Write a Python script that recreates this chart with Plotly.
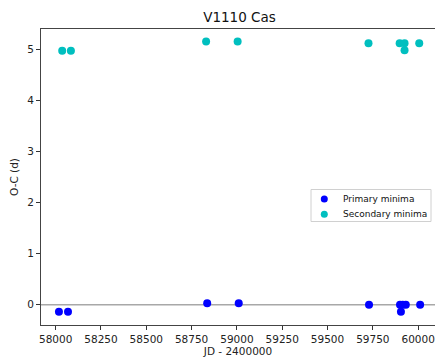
import plotly.graph_objects as go

# O-C residuals of eclipse timings (days) against JD - 2400000
prim_jd = [58018, 58068, 58836, 59010, 59729, 59900, 59905, 59915, 59932, 60011]
prim_oc = [-0.14, -0.14, 0.03, 0.03, 0.0, 0.0, -0.14, 0.0, 0.0, 0.0]
sec_jd = [58036, 58084, 58830, 59004, 59726, 59898, 59925, 59925, 60006]
sec_oc = [4.97, 4.97, 5.15, 5.15, 5.12, 5.12, 5.12, 4.98, 5.12]

x_ticks = [58000, 58250, 58500, 58750, 59000, 59250, 59500, 59750, 60000]
y_ticks = [0, 1, 2, 3, 4, 5]

series_names = ["Primary minima", "Secondary minima"]
series_colors = ["#0000ff", "#00bfbf"]

FONT = "DejaVu Sans"
W, H = 435, 363
ML, MR, MT, MB = 41, 0, 29, 38
PW, PH = W - ML - MR, H - MT - MB


def px_x(px):
    """pixel column -> paper x"""
    return (px - ML) / PW


def px_y(py):
    """pixel row -> paper y"""
    return (H - MB - py) / PH


fig = go.Figure()
for jd, oc, name, col in zip([prim_jd, sec_jd], [prim_oc, sec_oc],
                             series_names, series_colors):
    fig.add_trace(go.Scatter(
        x=jd, y=oc, mode="markers", name=name, showlegend=False,
        marker=dict(color=col, size=8, line=dict(width=0)),
    ))

fig.add_hline(y=0, line=dict(color="#a8a8a8", width=1.5), layer="below")

# legend box with a drop shadow
bx0, bx1, by0, by1 = 311, 431, 189.5, 221.5
shapes = [
    dict(type="rect", xref="paper", yref="paper",
         x0=px_x(bx0 + 3), x1=px_x(bx1 + 3), y0=px_y(by1 + 3), y1=px_y(by0 + 3),
         fillcolor="#a6a6a6", line=dict(width=0), layer="above"),
    dict(type="rect", xref="paper", yref="paper",
         x0=px_x(bx0), x1=px_x(bx1), y0=px_y(by1), y1=px_y(by0),
         fillcolor="white", line=dict(color="#d0d0d0", width=1), layer="above"),
]
annotations = []
for i, (name, col) in enumerate(zip(series_names, series_colors)):
    cy = 199 + i * 15.3
    r = 3.5
    shapes.append(dict(type="circle", xref="paper", yref="paper",
                       x0=px_x(324.3 - r), x1=px_x(324.3 + r),
                       y0=px_y(cy + r), y1=px_y(cy - r),
                       fillcolor=col, line=dict(width=0), layer="above"))
    annotations.append(dict(text=name, xref="paper", yref="paper",
                            x=px_x(340.5), y=px_y(cy), xanchor="left",
                            yanchor="middle", showarrow=False,
                            font=dict(family=FONT, size=9, color="#111")))

fig.update_layout(
    width=W, height=H,
    margin=dict(l=ML, r=MR, t=MT, b=MB),
    paper_bgcolor="white", plot_bgcolor="white",
    font=dict(family=FONT, size=10.5, color="#222"),
    title=dict(text="V1110 Cas", x=239.5 / W, xanchor="center",
               y=1 - 17 / H, yanchor="middle",
               font=dict(family=FONT, size=13.5, color="#111")),
    showlegend=False,
    shapes=shapes,
    annotations=annotations,
)

fig.update_xaxes(
    range=[57919, 60093], tickvals=x_ticks,
    ticktext=[str(v) for v in x_ticks],
    ticks="outside", ticklen=4, tickwidth=1, tickcolor="#333",
    showline=True, linecolor="#444", linewidth=1, mirror=True,
    showgrid=False, zeroline=False,
    title=dict(text="JD - 2400000", standoff=4, font=dict(family=FONT, size=10.5)),
    automargin=False,
)
fig.update_yaxes(
    range=[-0.397, 5.397], tickvals=y_ticks,
    ticks="outside", ticklen=4, tickwidth=1, tickcolor="#333",
    showline=True, linecolor="#444", linewidth=1, mirror=False,
    showgrid=False, zeroline=False,
    title=dict(text="O-C (d)", standoff=6, font=dict(family=FONT, size=10.5)),
    automargin=False,
)

fig.write_html("out.html")
